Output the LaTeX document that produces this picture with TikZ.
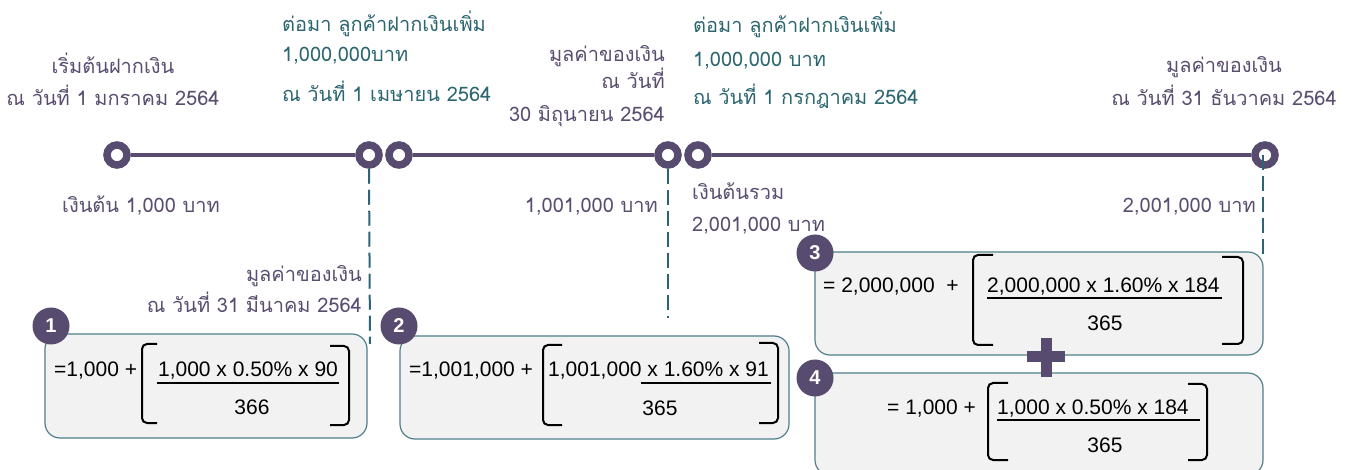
\documentclass[tikz,border=0pt]{standalone}
\usepackage{fontspec}
\setmainfont{Liberation Sans}
\newfontfamily\thai[Script=Thai]{Loma}
\definecolor{ringc}{HTML}{574B6F}
\definecolor{purp}{HTML}{5A4E70}
\definecolor{tealt}{HTML}{2C6670}
\definecolor{teald}{HTML}{2D6475}
\definecolor{boxb}{HTML}{4F7F8C}
\definecolor{boxf}{HTML}{F2F2F2}
\tikzset{
  ring/.style={circle, draw=ringc, line width=7.5pt, fill=white, minimum size=20pt, inner sep=0pt},
  tline/.style={draw=ringc, line width=4pt},
  lbl/.style={font=\thai\fontsize{20}{24}\selectfont, inner sep=0pt, text=purp},
  tlbl/.style={lbl, text=tealt},
  fml/.style={font=\fontsize{21}{25}\selectfont, inner sep=0pt, text=black},
  fbox/.style={draw=boxb, fill=boxf, rounded corners=15pt, line width=1.2pt, inner sep=0pt},
  badge/.style={circle, fill=ringc, minimum size=37pt, inner sep=0pt, text=white, font=\bfseries\fontsize{20}{22}\selectfont},
  dline/.style={draw=teald, line width=2pt, dash pattern=on 15pt off 6pt},
  brk/.style={draw=black, line width=2pt, rounded corners=5pt},
  fracl/.style={draw=black, line width=1.2pt}
}
\begin{document}
\begin{tikzpicture}[x=1pt, y=-1pt]
\clip (0,0) rectangle (1350,470);
\fill[white] (0,0) rectangle (1350,470);

% timeline rings
\node[ring] (ra) at (117,155) {};
\node[ring] (rb) at (369,155) {};
\node[ring] (rc) at (399,155) {};
\node[ring] (rd) at (668,155) {};
\node[ring] (re) at (698,155) {};
\node[ring] (rf) at (1265,155) {};
\draw[tline] (ra.east) -- (rb.west);
\draw[tline] (rc.east) -- (rd.west);
\draw[tline] (re.east) -- (rf.west);

% top labels
\node[lbl, anchor=base] (t1a) at (113,74) {เริ่มต้นฝากเงิน};
\node[lbl, anchor=base] (t1b) at (113,106) {ณ วันที่ 1 มกราคม 2564};

\node[tlbl, anchor=base west] (t2a) at (282,32) {ต่อมา ลูกค้าฝากเงินเพิ่ม};
\node[tlbl, anchor=base west] (t2b) at (282,62) {1,000,000บาท};
\node[tlbl, anchor=base west] (t2c) at (282,102) {ณ วันที่ 1 เมษายน 2564};

\node[lbl, anchor=base east] (t3a) at (665,62) {มูลค่าของเงิน};
\node[lbl, anchor=base east] (t3b) at (665,89) {ณ วันที่};
\node[lbl, anchor=base east] (t3c) at (665,122) {30 มิถุนายน 2564};

\node[tlbl, anchor=base west] (t4a) at (693,33) {ต่อมา ลูกค้าฝากเงินเพิ่ม};
\node[tlbl, anchor=base west] (t4b) at (693,67) {1,000,000 บาท};
\node[tlbl, anchor=base west] (t4c) at (693,105) {ณ วันที่ 1 กรกฎาคม 2564};

\node[lbl, anchor=base] (t5a) at (1224,73) {มูลค่าของเงิน};
\node[lbl, anchor=base] (t5b) at (1224,106) {ณ วันที่ 31 ธันวาคม 2564};

% bottom labels
\node[lbl, anchor=base] (b1) at (141,213) {เงินต้น 1,000 บาท};
\node[lbl, anchor=base east] (b2) at (658,213) {1,001,000 บาท};
\node[lbl, anchor=base west] (b3a) at (692,200) {เงินต้นรวม};
\node[lbl, anchor=base west] (b3b) at (692,232) {2,001,000 บาท};
\node[lbl, anchor=base east] (b4) at (1256,213) {2,001,000 บาท};
\node[lbl, anchor=base east] (m1a) at (362,282) {มูลค่าของเงิน};
\node[lbl, anchor=base east] (m1b) at (362,313) {ณ วันที่ 31 มีนาคม 2564};

% dashed connectors
\coordinate (e1) at (370,344);
\coordinate (e2) at (668,318);
\coordinate (e3) at (1263,256);
\draw[dline] (rb.south) -- (e1);
\draw[dline] (rd.south) -- (e2);
\draw[dline] (1263,155) -- (e3);

% boxes
\node[fbox, minimum width=322pt, minimum height=104pt] (box1) at (206,386) {};
\node[fbox, minimum width=389pt, minimum height=103pt] (box2) at (594.5,387.5) {};
\node[fbox, minimum width=448pt, minimum height=103pt] (box3) at (1039,303.5) {};
\node[fbox, minimum width=448pt, minimum height=102pt] (box4) at (1039,424) {};

\node[badge] (n1) at (51,326) {1};
\node[badge] (n2) at (399,326) {2};
\node[badge] (n3) at (815,253) {3};
\node[badge] (n4) at (815,378) {4};

% plus sign
\draw[ringc, line width=11pt] (1027,357) -- (1065,357);
\draw[ringc, line width=11pt] (1046,338) -- (1046,377);

% formula 1
\node[fml, anchor=base west] (f1a) at (54,377) {=1,000 +};
\draw[brk] (157,344) -- (142,344) -- (142,423) -- (157,423);
\node[fml, anchor=base] (f1n) at (248,377) {1,000 x 0.50\% x 90};
\draw[fracl] (157,383) -- (339,383);
\node[fml, anchor=base] (f1d) at (252,414) {366};
\draw[brk] (330,346) -- (349,346) -- (349,425) -- (330,425);

% formula 2
\node[fml, anchor=base west] (f2a) at (409,377) {=1,001,000 +};
\draw[brk] (562,345) -- (543,345) -- (543,425) -- (562,425);
\node[fml, anchor=base west] (f2n) at (548,377) {1,001,000 x 1.60\% x 91};
\draw[fracl] (641,383) -- (771,383);
\node[fml, anchor=base] (f2d) at (660,415) {365};
\draw[brk] (759,343) -- (778,343) -- (778,423) -- (759,423);

% formula 3
\node[fml, anchor=base west] (f3a) at (823,293) {= 2,000,000~~+};
\draw[brk] (993,255) -- (973,255) -- (973,345) -- (993,345);
\node[fml, anchor=base west] (f3n) at (987,293) {2,000,000 x 1.60\% x 184};
\draw[fracl] (987,298) -- (1222,298);
\node[fml, anchor=base] (f3d) at (1105,331) {365};
\draw[brk] (1222,257) -- (1243,257) -- (1243,344) -- (1222,344);

% formula 4
\node[fml, anchor=base west] (f4a) at (887,414) {= 1,000 +};
\draw[brk] (1008,383) -- (988,383) -- (988,460) -- (1008,460);
\node[fml, anchor=base west] (f4n) at (997,414) {1,000 x 0.50\% x 184};
\draw[fracl] (997,420) -- (1200,420);
\node[fml, anchor=base] (f4d) at (1105,452) {365};
\draw[brk] (1188,384) -- (1207,384) -- (1207,460) -- (1188,460);
\end{tikzpicture}
\end{document}
